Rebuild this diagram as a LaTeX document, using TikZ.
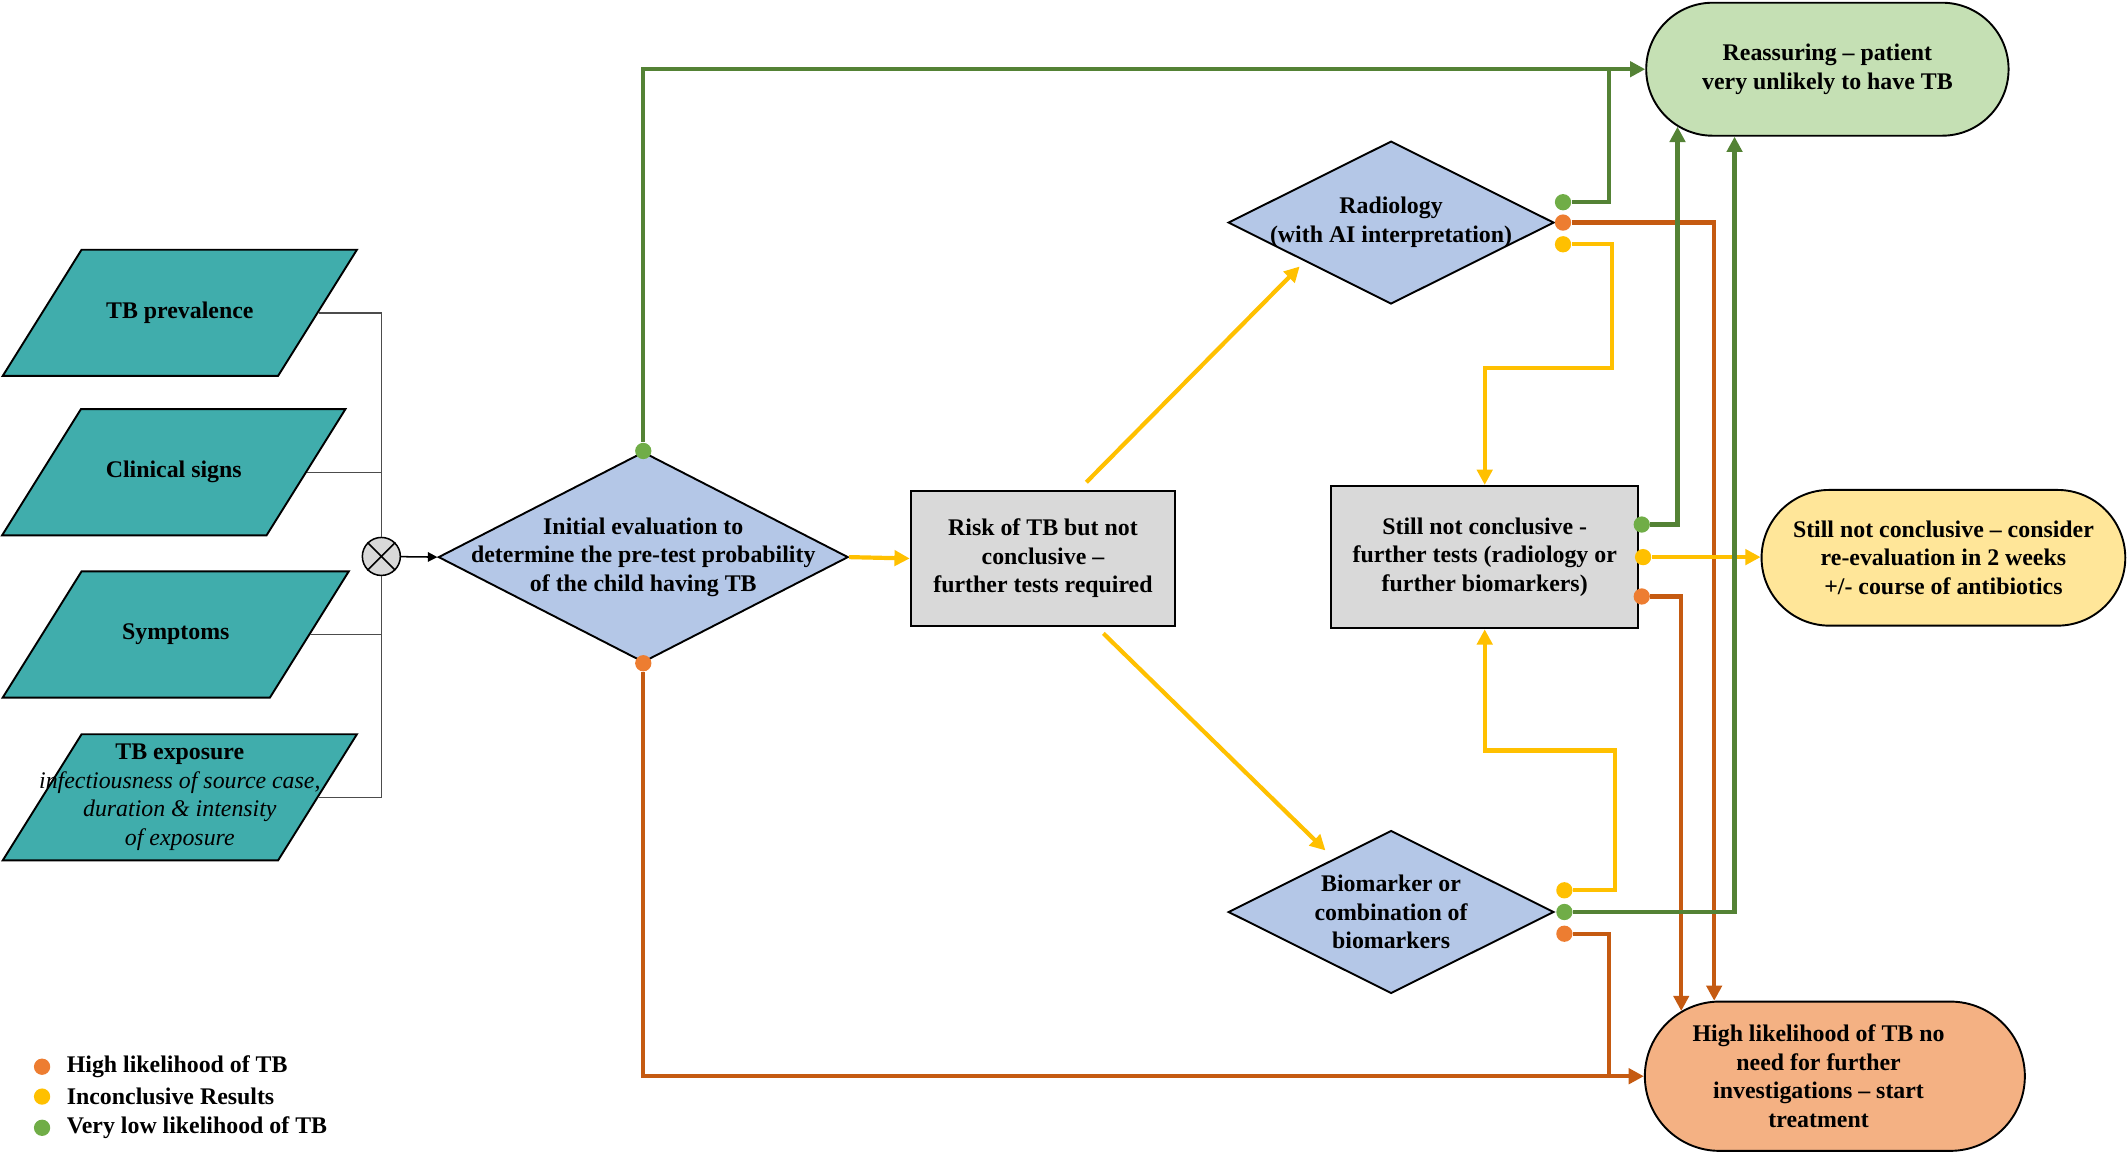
\documentclass[tikz,border=0pt]{standalone}
\usepackage{fontspec}
\setmainfont{Liberation Serif}
\usetikzlibrary{arrows.meta,calc,shapes.geometric,shapes.misc}
\newlength\pxu
\setlength\pxu{0.025cm}
\definecolor{tbteal}{HTML}{40ADAC}
\definecolor{diablue}{HTML}{B4C7E7}
\definecolor{boxgray}{HTML}{D9D9D9}
\definecolor{dgreen}{HTML}{548235}
\definecolor{lgreen}{HTML}{70AD47}
\definecolor{dorange}{HTML}{C55A11}
\definecolor{lorange}{HTML}{ED7D31}
\definecolor{tbyellow}{HTML}{FFC000}
\definecolor{reasfill}{HTML}{C5E0B4}
\definecolor{highfill}{HTML}{F4B183}
\definecolor{stillfill}{HTML}{FFE699}
\tikzset{
%Define standard arrow tip
>={Triangle[length=8pt,width=8pt]},
%Define styles for the boxes
txt/.style={align=center, font=\fontsize{12.5}{15}\selectfont\bfseries},
factor/.style={trapezium, trapezium left angle=58, trapezium right angle=122,
  trapezium stretches body, fill=tbteal, draw=black, line width=1pt,
  inner xsep=0pt, inner ysep=46.5\pxu},
decision/.style={diamond, fill=diablue, draw=black, line width=1pt, inner sep=0pt},
testbox/.style={rectangle, fill=boxgray, draw=black, line width=1pt, inner sep=0pt, txt},
outcome/.style={rounded rectangle, draw=black, line width=1pt, inner sep=0pt},
%Define styles for the result dots and lines
resdot/.style={circle, inner sep=0pt, minimum size=12\pxu},
gdot/.style={resdot, fill=lgreen},
odot/.style={resdot, fill=lorange},
ydot/.style={resdot, fill=tbyellow},
gline/.style={draw=dgreen, line width=2.2pt},
oline/.style={draw=dorange, line width=2.2pt},
yline/.style={draw=tbyellow, line width=2.2pt},
join line/.style={draw=black!70, line width=0.8pt},
}
\begin{document}
\begin{tikzpicture}[x=1\pxu, y=-1\pxu]
    % Frame of the page
    \useasboundingbox (0,0) rectangle (1568,849);

    % Input factors
    \node[factor, minimum width=261\pxu, label={[txt]center:TB prevalence}] (prev) at (132.5,230.5) {};
    \node[factor, minimum width=253\pxu, label={[txt]center:Clinical signs}] (clin) at (128,348) {};
    \node[factor, minimum width=255\pxu, label={[txt]center:Symptoms}] (symp) at (129.5,467.5) {};
    \node[factor, minimum width=261\pxu, label={[txt]center:{TB exposure\\\mdseries\itshape infectiousness of source case,\\\mdseries\itshape duration \& intensity\\\mdseries\itshape of exposure}}] (expo) at (132.5,587.5) {};

    % Summing junction
    \node[circle, fill=black!15, draw=black, line width=0.8pt, minimum size=28\pxu, inner sep=0pt] (sum) at (281,410) {};
    \draw[line width=0.8pt] (sum.45) -- (sum.225) (sum.135) -- (sum.315);
    \draw[join line] (prev.east) -| (sum);
    \draw[join line] (clin.east) -| (sum);
    \draw[join line] (symp.east) -| (sum);
    \draw[join line] (expo.east) -| (sum);

    % Tests
    \node[decision, minimum width=302\pxu, minimum height=155\pxu,
      label={[txt]center:Initial evaluation to\\determine the pre-test probability\\of the child having TB}] (ie) at (474,410.5) {};
    \node[testbox, minimum width=195\pxu, minimum height=99\pxu] (risk) at (768.5,411.5)
      {Risk of TB but not\\conclusive –\\ further tests required};
    \node[decision, minimum width=240\pxu, minimum height=120\pxu,
      label={[txt]center:Radiology\\(with AI interpretation)}] (rad) at (1025,164) {};
    \node[decision, minimum width=240\pxu, minimum height=120\pxu,
      label={[txt]center:Biomarker or\\combination of\\biomarkers}] (bio) at (1025,672) {};
    \node[testbox, minimum width=226\pxu, minimum height=105\pxu] (sti) at (1094,410.5)
      {Still not conclusive -\\further tests (radiology or\\further biomarkers)};

    % Outcomes
    \node[outcome, fill=reasfill, minimum width=267\pxu, minimum height=98\pxu,
      label={[txt]center:Reassuring – patient\\very unlikely to have TB}] (reas) at (1346.5,51) {};
    \node[outcome, fill=stillfill, minimum width=268\pxu, minimum height=100\pxu,
      label={[txt]center:Still not conclusive – consider\\re-evaluation in 2 weeks\\+/- course of antibiotics}] (stnc) at (1432,411) {};
    \node[outcome, fill=highfill, minimum width=280\pxu, minimum height=110\pxu,
      label={[txt,xshift=-12\pxu]center:High likelihood of TB no\\need for further\\investigations – start\\treatment}] (high) at (1352,793) {};

    % Result dots
    \node[gdot] (ieg) at (ie.north) {};
    \node[odot] (ieo) at (ie.south) {};
    \node[gdot] (radg) at ($(rad.east)+(6,-15)$) {};
    \node[odot] (rado) at ($(rad.east)+(6,0)$) {};
    \node[ydot] (rady) at ($(rad.east)+(6,16)$) {};
    \node[gdot] (stig) at ($(sti.east)+(2,-24)$) {};
    \node[ydot] (stiy) at ($(sti.east)+(3,0)$) {};
    \node[odot] (stio) at ($(sti.east)+(2,29)$) {};
    \node[ydot] (bioy) at ($(bio.east)+(7,-16)$) {};
    \node[gdot] (biog) at ($(bio.east)+(7,0)$) {};
    \node[odot] (bioo) at ($(bio.east)+(7,16)$) {};

    % Connections
    \draw[join line, -{Triangle[length=5pt,width=5pt]}, draw=black] (sum) -- (ie.west);
    \draw[yline,->] (ie.east) -- (risk.west);
    \draw[yline,->] ([shift={(32,-6)}]risk.north) -- ([shift={(-7,2)}]rad.south west);
    \draw[yline,->] ([shift={(44.5,5)}]risk.south) -- ([shift={(12,-15)}]bio.north west);

    \draw[gline,->] (ieg) |- (reas);
    \draw[oline,->] (ieo) |- (high);

    \draw[gline] (radg) -| ([xshift=-27\pxu]reas.west);
    \draw[oline,->] (rado) -| (high.148.7);
    \draw[yline,->] (rady) -| ++(36,91) -| (sti);

    \draw[gline,->] (stig) -| (reas.201);
    \draw[yline,->] (stiy) -- (stiy -| stnc.west);
    \draw[oline,->] (stio) -| (high.157.7);

    \draw[yline,->] (bioy) -| ++(37,-103) -| (sti);
    \draw[gline,->] (biog) -| (reas.216.4);
    \draw[oline] (bioo) -| ([xshift=-26\pxu]high.west);

    % Legend
    \node[odot, label={[txt, label distance=7\pxu]right:High likelihood of TB}] (lego) at (31,786) {};
    \node[ydot, label={[txt, label distance=7\pxu]right:Inconclusive Results}] (legy) at (31,808) {};
    \node[gdot, label={[txt, label distance=7\pxu]right:Very low likelihood of TB}] (legg) at (31,831) {};
\end{tikzpicture}
\end{document}
